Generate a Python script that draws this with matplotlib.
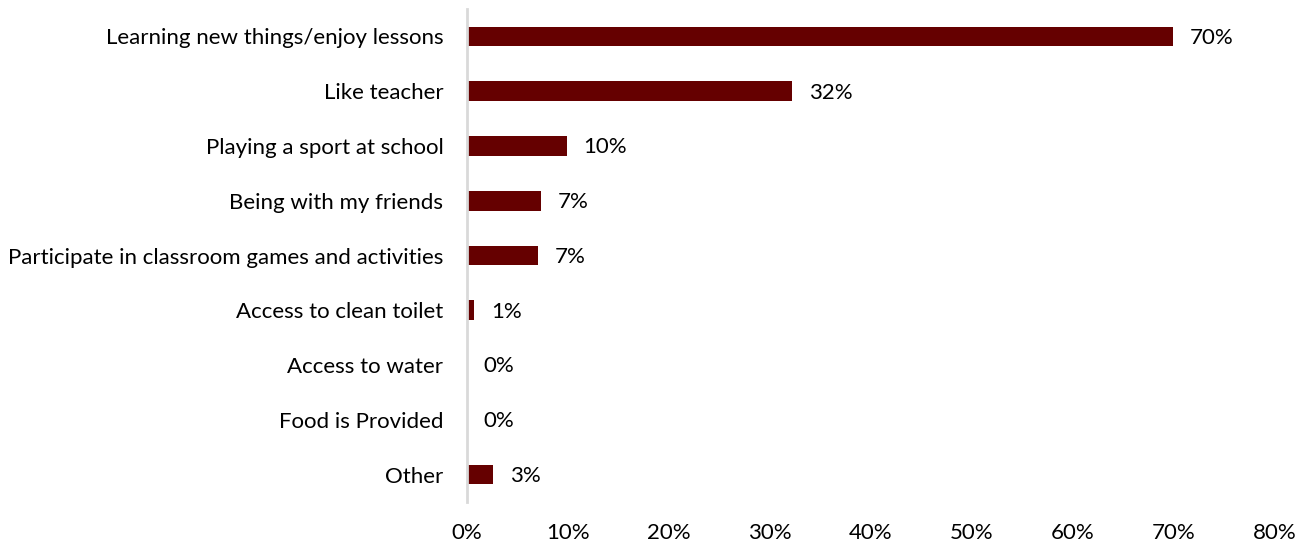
import matplotlib
matplotlib.use('Agg')
import matplotlib.pyplot as plt
from matplotlib.ticker import FuncFormatter

plt.rcParams['font.family'] = ['Lato', 'DejaVu Sans']

# reasons given, top to bottom
reasons = [
    'Learning new things/enjoy lessons',
    'Like teacher',
    'Playing a sport at school',
    'Being with my friends',
    'Participate in classroom games and activities',
    'Access to clean toilet',
    'Access to water',
    'Food is Provided',
    'Other',
]
share = [69.9, 32.2, 9.9, 7.3, 7.0, 0.7, 0.0, 0.0, 2.6]
xticks = [0, 10, 20, 30, 40, 50, 60, 70, 80]

bar_color = '#650000'
fs = 16

fig = plt.figure(figsize=(13.03, 5.46), dpi=100)
ax = fig.add_axes([467 / 1303, 1 - 502 / 546, (1275 - 467) / 1303, 493 / 546])

ypos = list(range(len(reasons)))
ax.barh(ypos, share, height=0.36, color=bar_color)

# value labels to the right of each bar
for y, v in zip(ypos, share):
    ax.annotate(f'{v:.0f}%', xy=(v, y), xytext=(12, -1), textcoords='offset points',
                va='center', ha='left', fontsize=fs, color='#000000')

ax.set_xlim(0, 80)
ax.set_ylim(len(reasons) - 0.5, -0.5)
ax.set_yticks(ypos)
ax.set_yticklabels(reasons, fontsize=fs)
ax.set_xticks(xticks)
ax.xaxis.set_major_formatter(FuncFormatter(lambda x, p: f'{x:.0f}%'))
ax.tick_params(axis='x', length=0, pad=15, labelsize=fs)
ax.tick_params(axis='y', length=0, pad=17)

for s in ['top', 'right', 'bottom']:
    ax.spines[s].set_visible(False)
ax.spines['left'].set_color('#d9d9d9')
ax.spines['left'].set_linewidth(2)

fig.savefig('out.png', dpi=100)
